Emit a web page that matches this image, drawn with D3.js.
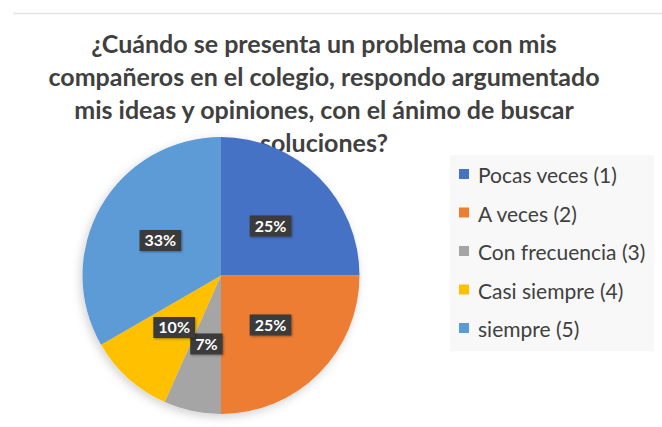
<!DOCTYPE html>
<html>
<head>
<meta charset="utf-8">
<script src="https://cdn.jsdelivr.net/npm/d3@7"></script>
<style>
  html, body { margin: 0; padding: 0; background: #ffffff; }
  svg { display: block; }
</style>
</head>
<body>
<svg id="chart"></svg>
<script>
// respuestas (conteos)
var categories = ["Pocas veces (1)", "A veces (2)", "Con frecuencia (3)", "Casi siempre (4)", "siempre (5)"];
var counts = [15, 15, 4, 6, 20];
var colors = ["#4472C4", "#ED7D31", "#A5A5A5", "#FFC000", "#5B9BD5"];
var titleLines = [
    "¿Cuándo se presenta un problema con mis",
    "compañeros en el colegio, respondo argumentado",
    "mis ideas y opiniones, con el ánimo de buscar",
    "soluciones?"
];

var width = 662, height = 427;
var params = {
    cx: 221, cy: 275.5, radius: 138.5,
    labelR: 70,
    titleX: 324, titleY: 53, titleStep: 33, titleSize: 25,
    legendX: 459, legendY: 183, legendStep: 38.5, legendSize: 21,
    font: "Lato, 'Open Sans', sans-serif"
};

var svg = d3.select("#chart").attr("width", width).attr("height", height);

var defs = svg.append("defs");
var sh = defs.append("filter").attr("id", "pieShadow")
    .attr("x", "-20%").attr("y", "-20%").attr("width", "140%").attr("height", "140%");
sh.append("feDropShadow").attr("dx", -2).attr("dy", 3).attr("stdDeviation", 5)
    .attr("flood-color", "#000").attr("flood-opacity", 0.18);
var lsh = defs.append("filter").attr("id", "lblShadow")
    .attr("x", "-30%").attr("y", "-30%").attr("width", "160%").attr("height", "160%");
lsh.append("feDropShadow").attr("dx", 1).attr("dy", 1).attr("stdDeviation", 1)
    .attr("flood-color", "#000").attr("flood-opacity", 0.35);
var fsh = defs.append("filter").attr("id", "frameShadow")
    .attr("x", "-50%").attr("y", "-5%").attr("width", "200%").attr("height", "110%");
fsh.append("feGaussianBlur").attr("stdDeviation", 1.5);

// marco
svg.append("line").attr("x1", 13).attr("x2", width).attr("y1", 13.5).attr("y2", 13.5)
    .attr("stroke", "#e4e4e4").attr("stroke-width", 1.5);
svg.append("line").attr("x1", 13).attr("x2", 13).attr("y1", 13).attr("y2", height)
    .attr("stroke", "#b8b8b8").attr("stroke-width", 3).attr("filter", "url(#frameShadow)");

// fondo leyenda
svg.append("rect").attr("x", 450).attr("y", 155).attr("width", 204).attr("height", 196)
    .attr("fill", "#f8f8f8");

// titulo
svg.append("g").selectAll("text").data(titleLines).enter().append("text")
    .attr("x", params.titleX)
    .attr("y", function(d, i) { return params.titleY + i * params.titleStep; })
    .attr("text-anchor", "middle")
    .attr("font-family", params.font)
    .attr("font-weight", "bold")
    .attr("font-size", params.titleSize)
    .attr("fill", "#404040")
    .text(function(d) { return d; });

// torta
var total = d3.sum(counts);
var pie = d3.pie().sort(null).value(function(d) { return d; });
var arcs = pie(counts);
var arc = d3.arc().innerRadius(0).outerRadius(params.radius);
var labelArc = d3.arc().innerRadius(params.labelR).outerRadius(params.labelR);

var pieG = svg.append("g")
    .attr("transform", "translate(" + params.cx + "," + params.cy + ")");
pieG.append("g").attr("filter", "url(#pieShadow)")
    .selectAll("path").data(arcs).enter().append("path")
    .attr("d", arc)
    .attr("fill", function(d, i) { return colors[i]; });

var lbl = pieG.append("g").selectAll("g").data(arcs).enter().append("g")
    .attr("transform", function(d) { return "translate(" + labelArc.centroid(d) + ")"; });
lbl.append("rect")
    .attr("fill", "#3b3b3b")
    .attr("filter", "url(#lblShadow)");
lbl.append("text")
    .attr("text-anchor", "middle")
    .attr("dy", "0.36em")
    .attr("font-family", params.font)
    .attr("font-weight", "bold")
    .attr("font-size", 16)
    .attr("fill", "#ffffff")
    .text(function(d) { return Math.round(d.value / total * 100) + "%"; });
lbl.each(function() {
    var g = d3.select(this);
    var bb = g.select("text").node().getBBox();
    g.select("rect")
        .attr("x", bb.x - 5).attr("y", -10.5)
        .attr("width", bb.width + 10).attr("height", 21);
});

// leyenda
var leg = svg.append("g").selectAll("g").data(categories).enter().append("g")
    .attr("transform", function(d, i) {
        return "translate(" + params.legendX + "," + (params.legendY + i * params.legendStep) + ")";
    });
leg.append("rect").attr("x", 0).attr("y", -14).attr("width", 10).attr("height", 10)
    .attr("fill", function(d, i) { return colors[i]; });
leg.append("text")
    .attr("x", 19)
    .attr("font-family", params.font)
    .attr("font-size", params.legendSize)
    .attr("fill", "#404040")
    .text(function(d) { return d; });
</script>
</body>
</html>
